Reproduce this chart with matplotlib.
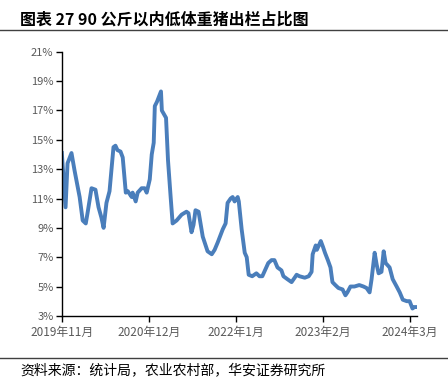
from matplotlib import pyplot as plt
import matplotlib.dates as mdates
from matplotlib.lines import Line2D
import numpy as np
import pandas as pd

plt.rcParams['font.family'] = ['Noto Sans CJK SC', 'DejaVu Sans']

# share of hogs slaughtered under 90 kg (%)
dates = [
    '2019-11-01', '2019-11-18', '2019-11-27', '2019-12-15', '2019-12-29',
    '2020-01-21', '2020-02-04', '2020-02-18', '2020-02-27', '2020-03-15',
    '2020-04-02', '2020-04-16', '2020-04-29', '2020-05-09', '2020-05-22',
    '2020-06-05', '2020-06-23', '2020-07-02', '2020-07-11', '2020-07-25',
    '2020-08-04', '2020-08-18', '2020-08-27', '2020-09-14', '2020-09-18',
    '2020-10-02', '2020-10-11', '2020-10-29', '2020-11-12', '2020-11-21',
    '2020-12-05', '2020-12-14', '2020-12-23', '2020-12-28', '2021-01-07',
    '2021-01-25', '2021-01-29', '2021-02-17', '2021-02-26', '2021-03-10',
    '2021-03-19', '2021-04-06', '2021-04-29', '2021-05-21', '2021-05-30',
    '2021-06-13', '2021-06-22', '2021-07-01', '2021-07-15', '2021-08-03',
    '2021-08-25', '2021-09-13', '2021-09-26', '2021-10-10', '2021-11-02',
    '2021-11-15', '2021-11-24', '2021-12-08', '2021-12-17', '2021-12-26',
    '2022-01-09', '2022-01-14', '2022-01-27', '2022-02-10', '2022-02-19',
    '2022-02-28', '2022-03-16', '2022-04-04', '2022-04-18', '2022-05-01',
    '2022-05-19', '2022-05-28', '2022-06-12', '2022-06-25', '2022-07-09',
    '2022-07-27', '2022-08-05', '2022-08-23', '2022-09-11', '2022-09-25',
    '2022-10-04', '2022-10-17', '2022-11-10', '2022-11-28', '2022-12-11',
    '2022-12-16', '2022-12-30', '2023-01-04', '2023-01-13', '2023-01-22',
    '2023-02-01', '2023-02-10', '2023-02-23', '2023-03-07', '2023-03-16',
    '2023-03-29', '2023-04-12', '2023-05-01', '2023-05-14', '2023-05-23',
    '2023-06-06', '2023-06-24', '2023-07-16', '2023-08-04', '2023-08-18',
    '2023-09-01', '2023-09-10', '2023-09-24', '2023-10-03', '2023-10-12',
    '2023-10-25', '2023-11-04', '2023-11-13', '2023-12-01', '2023-12-15',
    '2024-01-02', '2024-01-16', '2024-01-30', '2024-02-17', '2024-03-01',
    '2024-03-14', '2024-03-23', '2024-04-02',
]
share = [
    14.1, 10.4, 13.4, 14.1, 12.9,
    11.1, 9.5, 9.3, 10.1, 11.7,
    11.6, 10.4, 9.7, 9.0, 10.7,
    11.5, 14.5, 14.6, 14.3, 14.2,
    13.8, 11.4, 11.5, 11.1, 11.4,
    10.8, 11.4, 11.7, 11.7, 11.4,
    12.3, 14.0, 14.8, 17.3, 17.6,
    18.3, 17.0, 16.5, 13.6, 11.1,
    9.3, 9.5, 9.9, 10.1, 10.0,
    8.7, 9.2, 10.2, 10.1, 8.4,
    7.4, 7.2, 7.5, 8.0, 8.9,
    9.3, 10.7, 11.0, 11.1, 10.8,
    11.1, 10.8, 8.9, 7.3, 7.0,
    5.8, 5.7, 5.9, 5.7, 5.7,
    6.3, 6.6, 6.8, 6.8, 6.3,
    6.1, 5.7, 5.5, 5.3, 5.6,
    5.8, 5.7, 5.6, 5.7, 6.0,
    7.2, 7.8, 7.5, 7.8, 8.1,
    7.7, 7.3, 6.8, 6.3, 5.3,
    5.1, 4.9, 4.8, 4.4, 4.6,
    5.0, 5.0, 5.1, 5.0, 4.9,
    4.6, 5.5, 7.3, 6.5, 5.9,
    6.0, 7.4, 6.6, 6.3, 5.5,
    5.0, 4.6, 4.1, 4.0, 4.0,
    3.5, 3.6, 3.6,
]
tick_dates = ['2019-11-01', '2020-12-01', '2022-01-01', '2023-02-01', '2024-03-01']
tick_labels = ['2019年11月', '2020年12月', '2022年1月', '2023年2月', '2024年3月']
y_ticks = [3, 5, 7, 9, 11, 13, 15, 17, 19, 21]

title = '图表 27 90 公斤以内低体重猪出栏占比图'
source = '资料来源：统计局，农业农村部，华安证券研究所'

x = pd.to_datetime(dates)

fig = plt.figure(figsize=(4.48, 3.81), dpi=100)
ax = fig.add_axes([0.138, 0.171, 0.793, 0.693])

ax.plot(x, share, color='#4a7ebb', linewidth=2.8, solid_joinstyle='round')

ax.set_xlim(pd.Timestamp('2019-11-01'), pd.Timestamp('2024-04-04'))
ax.set_ylim(3, 21)
ax.set_yticks(y_ticks)
ax.set_yticklabels([f'{v}%' for v in y_ticks])
ax.set_xticks(pd.to_datetime(tick_dates))
ax.set_xticklabels(tick_labels)

for side in ['top', 'right']:
    ax.spines[side].set_visible(False)
for side in ['left', 'bottom']:
    ax.spines[side].set_color('black')
    ax.spines[side].set_linewidth(1.0)
ax.tick_params(axis='both', colors='#595959', labelsize=8, length=4,
               width=1.0, direction='out')
ax.tick_params(axis='both', color='black')
ax.tick_params(axis='x', labelsize=8.5, pad=3)
ax.tick_params(axis='y', pad=2)

fig.text(0.045, 0.948, title, fontsize=11.5, fontweight='bold',
         color='black', va='center', ha='left')
fig.add_artist(Line2D([0, 1], [0.921, 0.921], color='#404040', linewidth=1.0))
fig.add_artist(Line2D([0, 1], [0.060, 0.060], color='#404040', linewidth=1.0))
fig.text(0.045, 0.028, source, fontsize=10, color='black', va='center', ha='left')

fig.savefig('out.png', dpi=100)
